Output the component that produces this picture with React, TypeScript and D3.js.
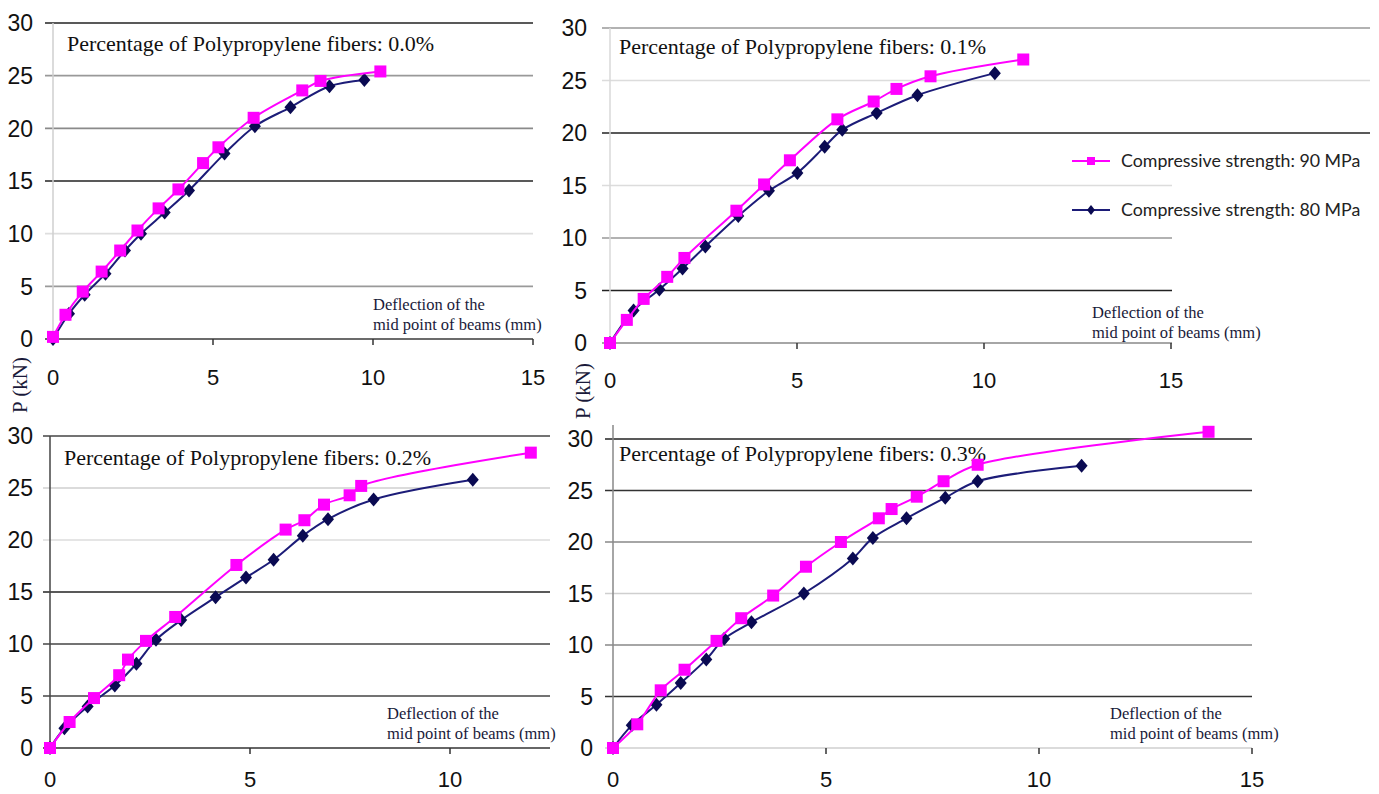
import React from 'react'
import * as d3 from 'd3'

const yTicks = [0, 5, 10, 15, 20, 25, 30]
const panelTitles = [
  'Percentage of Polypropylene fibers: 0.0%',
  'Percentage of Polypropylene fibers: 0.1%',
  'Percentage of Polypropylene fibers: 0.2%',
  'Percentage of Polypropylene fibers: 0.3%',
]
const seriesNames = ['Compressive strength: 90 MPa', 'Compressive strength: 80 MPa']
const xTitle = ['Deflection of the', 'mid point of beams (mm)']
const yTitle = 'P (kN)'

// [deflection (mm), load (kN)]
const fiber00_90 = [[0, 0.2], [0.39, 2.3], [0.93, 4.5], [1.52, 6.4], [2.1, 8.4], [2.64, 10.3], [3.3, 12.4], [3.92, 14.2], [4.69, 16.7], [5.17, 18.2], [6.27, 21.0], [7.79, 23.6], [8.36, 24.5], [10.23, 25.4]]
const fiber00_80 = [[0, 0], [0.5, 2.4], [0.99, 4.2], [1.64, 6.2], [2.25, 8.4], [2.75, 10.0], [3.49, 12.0], [4.25, 14.1], [5.36, 17.6], [6.31, 20.2], [7.42, 22.0], [8.64, 24.0], [9.73, 24.6]]
const fiber01_90 = [[0, 0], [0.45, 2.2], [0.9, 4.2], [1.53, 6.3], [1.99, 8.1], [3.38, 12.6], [4.12, 15.1], [4.81, 17.4], [6.08, 21.3], [7.05, 23.0], [7.66, 24.2], [8.57, 25.4], [11.05, 27.0]]
const fiber01_80 = [[0, 0], [0.63, 3.1], [1.32, 5.1], [1.94, 7.1], [2.55, 9.2], [3.43, 12.1], [4.25, 14.5], [5.01, 16.2], [5.74, 18.7], [6.21, 20.3], [7.13, 21.9], [8.22, 23.6], [10.29, 25.7]]
const fiber02_90 = [[0, 0], [0.49, 2.5], [1.1, 4.8], [1.73, 7.0], [1.95, 8.5], [2.4, 10.3], [3.13, 12.6], [4.66, 17.6], [5.89, 21.0], [6.36, 21.9], [6.85, 23.4], [7.49, 24.3], [7.78, 25.2], [12.02, 28.4]]
const fiber02_80 = [[0, 0], [0.36, 1.9], [0.94, 4.0], [1.62, 6.0], [2.16, 8.1], [2.65, 10.4], [3.28, 12.3], [4.14, 14.5], [4.9, 16.4], [5.59, 18.1], [6.32, 20.4], [6.95, 22.0], [8.09, 23.9], [10.57, 25.8]]
const fiber03_90 = [[0, 0], [0.57, 2.3], [1.12, 5.6], [1.68, 7.6], [2.43, 10.4], [3.01, 12.6], [3.76, 14.8], [4.53, 17.6], [5.35, 20.0], [6.24, 22.3], [6.54, 23.2], [7.13, 24.4], [7.76, 25.9], [8.56, 27.5], [13.98, 30.7]]
const fiber03_80 = [[0, 0], [0.44, 2.2], [1.02, 4.2], [1.59, 6.3], [2.19, 8.6], [2.61, 10.6], [3.25, 12.2], [4.48, 15.0], [5.63, 18.4], [6.1, 20.4], [6.89, 22.3], [7.8, 24.3], [8.56, 25.9], [11.0, 27.4]]

const data90 = [fiber00_90, fiber01_90, fiber02_90, fiber03_90]
const data80 = [fiber00_80, fiber01_80, fiber02_80, fiber03_80]

const PINK = '#ff00ff'
const NAVY = '#1c1c78'
const NAVY_DARK = '#0a0a52'

// placement of each scanned panel
const panels = [
  { x0: 53, x1: 533, xMax: 15, yTop: 23, yBottom: 339, gridL: 45, gridR: 533, xTicks: [0, 5, 10, 15], labelR: 33,
    grid: ['#3a3a3a', '#9a9a9a', '#dedede', '#222', '#8a8a8a', '#999', '#222'], axis: '#cfcfcf', yAxisTop: 23,
    title: [67, 43], xt: [373, 304], xLab: 377 },
  { x0: 610, x1: 1171, xMax: 15, yTop: 28, yBottom: 343, gridL: 602, gridR: 1172, xTicks: [0, 5, 10, 15], labelR: 587,
    grid: ['#888', '#222', '#999', '#dcdcdc', '#222', '#dcdcdc', '#999'], axis: '#d8d8d8', yAxisTop: 28,
    title: [619, 46], xt: [1092, 312], xLab: 380 },
  { x0: 50, x1: 550, xMax: 12.5, yTop: 436, yBottom: 748, gridL: 43, gridR: 550, xTicks: [0, 5, 10], labelR: 33,
    grid: ['#333', '#444', '#444', '#222', '#dcdcdc', '#cfcfcf', '#444'], axis: '#444', yAxisTop: 436,
    title: [64, 457], xt: [387, 713], xLab: 779 },
  { x0: 613, x1: 1252, xMax: 15, yTop: 439, yBottom: 748, gridL: 605, gridR: 1252, xTicks: [0, 5, 10, 15], labelR: 593,
    grid: ['#cfcfcf', '#333', '#888', '#cfcfcf', '#888', '#333', '#222'], axis: '#888', yAxisTop: 425,
    title: [619, 453], xt: [1110, 713], xLab: 779 },
]

const Panel = ({ p, i }) => {
  const x = d3.scaleLinear().domain([0, p.xMax]).range([p.x0, p.x1])
  const y = d3.scaleLinear().domain([0, 30]).range([p.yBottom, p.yTop])
  const line = d3.line().x((d) => x(d[0])).y((d) => y(d[1])).curve(d3.curveCatmullRom.alpha(0.5))
  const s90 = data90[i]
  const s80 = data80[i]
  const wide = i === 1
  return (
    <g>
      {yTicks.map((t, k) => (
        <g key={t}>
          <line x1={p.gridL} x2={wide && t >= 20 ? 1370 : p.gridR} y1={y(t)} y2={y(t)} stroke={p.grid[k]} strokeWidth={1.6} />
          <text x={p.labelR} y={y(t)} dy="0.36em" textAnchor="end" fontFamily="Liberation Sans" fontSize={23} fill="#111">{t}</text>
        </g>
      ))}
      <line x1={p.x0} x2={p.x0} y1={p.yAxisTop} y2={p.yBottom} stroke={p.axis} strokeWidth={1.5} />
      {p.xTicks.map((t) => (
        <g key={t}>
          {t > 0 && <line x1={x(t)} x2={x(t)} y1={p.yBottom} y2={p.yBottom + 6} stroke="#333" strokeWidth={1.5} />}
          <text x={x(t)} y={p.xLab} dy="0.36em" textAnchor="middle" fontFamily="Liberation Sans" fontSize={22} fill="#111">{t}</text>
        </g>
      ))}
      <text x={p.title[0]} y={p.title[1]} dy="0.35em" fontFamily="Liberation Serif" fontSize={22} fill="#111">{panelTitles[i]}</text>
      <text fontFamily="Liberation Serif" fontSize={16.5} fill="#1a1a3a">
        <tspan x={p.xt[0]} y={p.xt[1]} dy="0.35em">{xTitle[0]}</tspan>
        <tspan x={p.xt[0]} y={p.xt[1] + 20} dy="0.35em">{xTitle[1]}</tspan>
      </text>
      <path d={line(s80)} fill="none" stroke={NAVY} strokeWidth={2} />
      {s80.map((d, k) => (
        <path key={k} d="M0,-7L6,0L0,7L-6,0Z" transform={`translate(${x(d[0])},${y(d[1])})`} fill={NAVY_DARK} />
      ))}
      <path d={line(s90)} fill="none" stroke={PINK} strokeWidth={2} />
      {s90.map((d, k) => (
        <rect key={k} x={x(d[0]) - 6} y={y(d[1]) - 6} width={12} height={12} fill={PINK} />
      ))}
    </g>
  )
}

export default function App() {
  return (
    <svg width={1379} height={794} style={{ position: 'absolute', left: 0, top: 0, background: '#fff' }}>
      <rect width={1379} height={794} fill="#fff" />
      {panels.map((p, i) => (
        <Panel key={i} p={p} i={i} />
      ))}
      <text transform="translate(20,385) rotate(-90)" textAnchor="middle" dy="0.35em" fontFamily="Liberation Serif" fontSize={21} fill="#1a1a3a">{yTitle}</text>
      <text transform="translate(583,391) rotate(-90)" textAnchor="middle" dy="0.35em" fontFamily="Liberation Serif" fontSize={21} fill="#1a1a3a">{yTitle}</text>
      <g>
        <line x1={1072} x2={1110} y1={161} y2={161} stroke={PINK} strokeWidth={1.8} />
        <rect x={1087} y={157} width={8} height={8} fill={PINK} />
        <text x={1121} y={161} dy="0.35em" fontFamily="Lato" fontSize={17.8} fill="#222">{seriesNames[0]}</text>
        <line x1={1072} x2={1110} y1={210} y2={210} stroke={NAVY} strokeWidth={1.8} />
        <path d="M0,-5L4,0L0,5L-4,0Z" transform="translate(1091,210)" fill={NAVY_DARK} />
        <text x={1121} y={210} dy="0.35em" fontFamily="Lato" fontSize={17.8} fill="#222">{seriesNames[1]}</text>
      </g>
    </svg>
  )
}
